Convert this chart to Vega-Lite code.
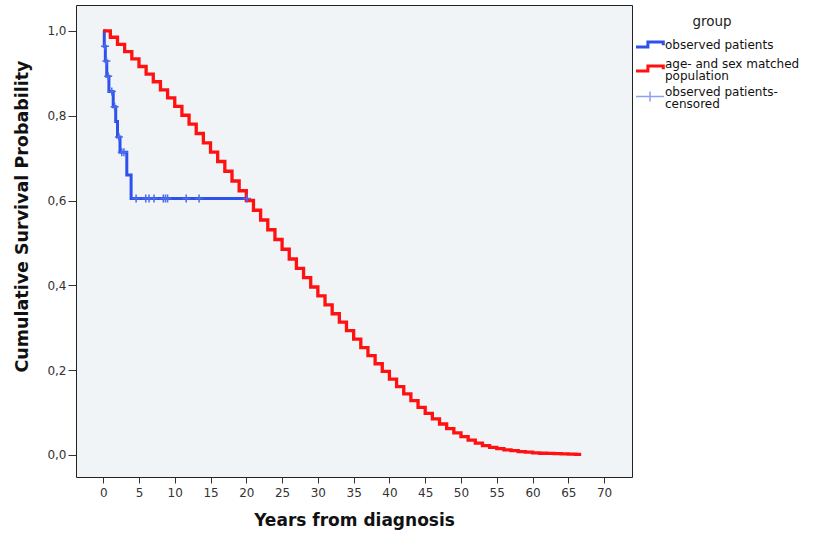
{
  "$schema": "https://vega.github.io/schema/vega-lite/v6.json",
  "width": 556,
  "height": 472,
  "autosize": {"type": "none"},
  "padding": {"left": 76, "top": 5, "right": 184, "bottom": 57},
  "background": "white",
  "config": {
    "view": {"stroke": "#222222", "strokeWidth": 1, "fill": "#F1F4F6"},
    "font": "DejaVu Sans",
    "axis": {
      "grid": false,
      "domain": false,
      "tickColor": "#333333",
      "labelColor": "#333333",
      "labelFont": "DejaVu Sans",
      "labelFontSize": 12,
      "titleFont": "DejaVu Sans",
      "titleFontSize": 17,
      "titleFontWeight": "bold",
      "titleColor": "#111111"
    }
  },
  "datasets": {
    "expected": [
      {"t": 0, "s": 1.0}, {"t": 1, "s": 0.985}, {"t": 2, "s": 0.968}, {"t": 3, "s": 0.951}, {"t": 4, "s": 0.934},
      {"t": 5, "s": 0.916}, {"t": 6, "s": 0.898}, {"t": 7, "s": 0.88}, {"t": 8, "s": 0.861}, {"t": 9, "s": 0.842},
      {"t": 10, "s": 0.822}, {"t": 11, "s": 0.801}, {"t": 12, "s": 0.78}, {"t": 13, "s": 0.758}, {"t": 14, "s": 0.736},
      {"t": 15, "s": 0.714}, {"t": 16, "s": 0.692}, {"t": 17, "s": 0.669}, {"t": 18, "s": 0.646}, {"t": 19, "s": 0.623},
      {"t": 20, "s": 0.6}, {"t": 21, "s": 0.577}, {"t": 22, "s": 0.554}, {"t": 23, "s": 0.531}, {"t": 24, "s": 0.508},
      {"t": 25, "s": 0.485}, {"t": 26, "s": 0.462}, {"t": 27, "s": 0.44}, {"t": 28, "s": 0.418}, {"t": 29, "s": 0.396},
      {"t": 30, "s": 0.375}, {"t": 31, "s": 0.354}, {"t": 32, "s": 0.333}, {"t": 33, "s": 0.313}, {"t": 34, "s": 0.293},
      {"t": 35, "s": 0.273}, {"t": 36, "s": 0.253}, {"t": 37, "s": 0.234}, {"t": 38, "s": 0.215}, {"t": 39, "s": 0.197},
      {"t": 40, "s": 0.179}, {"t": 41, "s": 0.161}, {"t": 42, "s": 0.144}, {"t": 43, "s": 0.128}, {"t": 44, "s": 0.112},
      {"t": 45, "s": 0.098}, {"t": 46, "s": 0.085}, {"t": 47, "s": 0.073}, {"t": 48, "s": 0.062}, {"t": 49, "s": 0.052},
      {"t": 50, "s": 0.043}, {"t": 51, "s": 0.035}, {"t": 52, "s": 0.028}, {"t": 53, "s": 0.022}, {"t": 54, "s": 0.018},
      {"t": 55, "s": 0.015}, {"t": 56, "s": 0.012}, {"t": 57, "s": 0.01}, {"t": 58, "s": 0.008}, {"t": 59, "s": 0.0065},
      {"t": 60, "s": 0.005}, {"t": 61, "s": 0.004}, {"t": 62, "s": 0.0035}, {"t": 63, "s": 0.003}, {"t": 64, "s": 0.0025},
      {"t": 65, "s": 0.002}, {"t": 66, "s": 0.0015}, {"t": 66.8, "s": 0.0015}
    ],
    "observed": [
      {"t": 0, "s": 1.0}, {"t": 0.15, "s": 0.964}, {"t": 0.3, "s": 0.929}, {"t": 0.5, "s": 0.893},
      {"t": 0.8, "s": 0.857}, {"t": 1.4, "s": 0.821}, {"t": 1.75, "s": 0.786}, {"t": 2.0, "s": 0.75},
      {"t": 2.35, "s": 0.714}, {"t": 3.3, "s": 0.66}, {"t": 3.9, "s": 0.605}, {"t": 20.1, "s": 0.605}
    ],
    "censored": [
      {"t": 0.25, "s": 0.964}, {"t": 0.45, "s": 0.929}, {"t": 0.7, "s": 0.893}, {"t": 1.2, "s": 0.857},
      {"t": 1.6, "s": 0.821}, {"t": 2.2, "s": 0.75}, {"t": 2.6, "s": 0.714}, {"t": 2.9, "s": 0.714},
      {"t": 4.6, "s": 0.605}, {"t": 5.95, "s": 0.605}, {"t": 6.4, "s": 0.605}, {"t": 7.1, "s": 0.605},
      {"t": 8.4, "s": 0.605}, {"t": 8.7, "s": 0.605}, {"t": 9.0, "s": 0.605}, {"t": 11.6, "s": 0.605},
      {"t": 13.4, "s": 0.605}, {"t": 20.1, "s": 0.605}
    ],
    "legendrows": [
      {"t": 30, "s": 0.5, "group": "observed patients"},
      {"t": 30, "s": 0.5, "group": "age- and sex matched population"},
      {"t": 30, "s": 0.5, "group": "observed patients-censored"}
    ]
  },
  "encoding": {
    "x": {
      "field": "t", "type": "quantitative",
      "scale": {"domain": [-3.8, 73.9], "nice": false, "zero": false},
      "axis": {
        "values": [0, 5, 10, 15, 20, 25, 30, 35, 40, 45, 50, 55, 60, 65, 70],
        "tickSize": 6, "labelPadding": 4, "title": "Years from diagnosis", "titlePadding": 14
      }
    },
    "y": {
      "field": "s", "type": "quantitative",
      "scale": {"domain": [-0.052, 1.061], "nice": false, "zero": false},
      "axis": {
        "values": [0, 0.2, 0.4, 0.6, 0.8, 1.0],
        "labelExpr": "replace(format(datum.value, '.1f'), '.', ',')",
        "tickSize": 8, "labelPadding": 2, "title": "Cumulative Survival Probability", "titlePadding": 15, "titleFontSize": 17.5, "titleY": 211
      }
    }
  },
  "layer": [
    {
      "data": {"name": "observed"},
      "transform": [{"calculate": "'observed patients'", "as": "group"}],
      "mark": {"type": "line", "interpolate": "step-after", "strokeWidth": 3, "clip": true},
      "encoding": {
        "color": {
          "field": "group", "type": "nominal",
          "scale": {"domain": ["observed patients", "age- and sex matched population", "observed patients-censored"], "range": ["#2E50EC", "#FF1111", "#8AA0F2"]},
          "legend": {
            "title": "group", "orient": "none", "legendX": 568, "legendY": 10, "padding": 0,
            "titleFont": "DejaVu Sans", "titleFontSize": 13.5, "titleFontWeight": "normal", "titleColor": "#222222", "titleAnchor": "middle", "titlePadding": 10,
            "labelFont": "DejaVu Sans", "labelFontSize": 12, "labelColor": "#111111", "labelLimit": 300, "labelOffset": 9, "rowPadding": 4,
            "symbolSize": 784,
            "labelExpr": "datum.label == 'age- and sex matched population' ? ['age- and sex matched', 'population'] : datum.label == 'observed patients-censored' ? ['observed patients-', 'censored'] : datum.label",
            "encode": {
              "title": {"update": {"dx": {"value": -10}}},
              "symbols": {"update": {"fill": {"value": "transparent"}, "opacity": {"value": 1}, "strokeWidth": {"signal": "datum.value === 'observed patients-censored' ? 1.5 : 3"}}},
              "labels": {"update": {"lineHeight": {"value": 12}, "dy": {"signal": "datum.value === 'observed patients' ? 0 : -5"}}}
            }
          }
        }
      }
    },
    {
      "data": {"name": "expected"},
      "transform": [{"calculate": "'age- and sex matched population'", "as": "group"}],
      "mark": {"type": "line", "interpolate": "step-after", "strokeWidth": 3.3, "clip": true},
      "encoding": {
        "color": {"field": "group", "type": "nominal"}
      }
    },
    {
      "data": {"name": "censored"},
      "mark": {"type": "point", "shape": "M-1,0L1,0M0,-1L0,1", "filled": false, "size": 64, "strokeWidth": 1.5, "opacity": 1, "color": "#4A6AEE"}
    },
    {
      "data": {"name": "legendrows"},
      "mark": {"type": "point", "filled": false, "opacity": 0},
      "encoding": {
        "color": {"field": "group", "type": "nominal"},
        "shape": {
          "field": "group", "type": "nominal",
          "scale": {"domain": ["observed patients", "age- and sex matched population", "observed patients-censored"], "range": ["M-1,0.18L-0.15,0.18L-0.15,-0.18L0.95,-0.18L0.95,0.05", "M-1,0.18L-0.15,0.18L-0.15,-0.18L0.95,-0.18L0.95,0.05", "M-1,0L1,0M0,-0.35L0,0.35"]},
          "legend": {
            "title": "group", "orient": "none", "legendX": 568, "legendY": 10, "padding": 0,
            "titleFont": "DejaVu Sans", "titleFontSize": 13.5, "titleFontWeight": "normal", "titleColor": "#222222", "titleAnchor": "middle", "titlePadding": 10,
            "labelFont": "DejaVu Sans", "labelFontSize": 12, "labelColor": "#111111", "labelLimit": 300, "labelOffset": 9, "rowPadding": 4,
            "symbolSize": 784,
            "labelExpr": "datum.label == 'age- and sex matched population' ? ['age- and sex matched', 'population'] : datum.label == 'observed patients-censored' ? ['observed patients-', 'censored'] : datum.label",
            "encode": {
              "title": {"update": {"dx": {"value": -10}}},
              "symbols": {"update": {"fill": {"value": "transparent"}, "opacity": {"value": 1}, "strokeWidth": {"signal": "datum.value === 'observed patients-censored' ? 1.5 : 3"}}},
              "labels": {"update": {"lineHeight": {"value": 12}, "dy": {"signal": "datum.value === 'observed patients' ? 0 : -5"}}}
            }
          }
        }
      }
    }
  ]
}
